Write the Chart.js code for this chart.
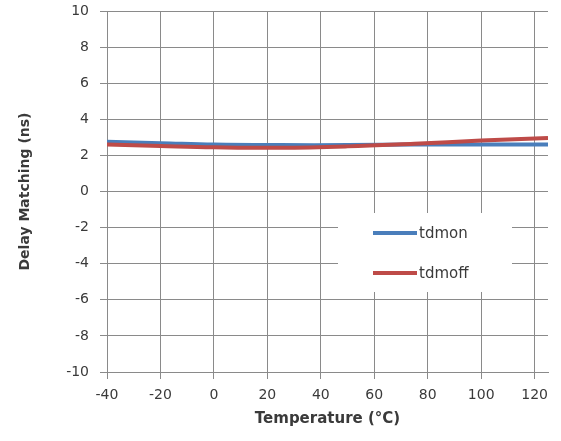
<!DOCTYPE html>
<html>
<head>
<meta charset="utf-8">
<script src="https://cdn.jsdelivr.net/npm/chart.js@4.4.1/dist/chart.umd.min.js"></script>
<style>
  html, body { margin: 0; padding: 0; background: #fff; }
  #wrap { width: 561px; height: 441px; }
</style>
</head>
<body>
<div id="wrap"><canvas id="chart"></canvas></div>
<script>
// temperature sweep and delay matching per edge (ns)
const temps  = [-40, -20, 0, 25, 50, 75, 100, 125];
const tdmon  = [2.75, 2.68, 2.6, 2.57, 2.57, 2.6, 2.6, 2.6];
const tdmoff = [2.6, 2.52, 2.45, 2.42, 2.5, 2.65, 2.82, 2.97];
const seriesNames = ['tdmon', 'tdmoff'];
const xTicks = [-40, -20, 0, 20, 40, 60, 80, 100, 120];

const gridColor = '#8a8a8a';
const textColor = '#3a3a3a';
const fontFamily = '"DejaVu Sans", sans-serif';

const toPoints = ys => temps.map((t, i) => ({ x: t, y: ys[i] }));

// white legend box sitting inside the plot, over the grid
const boxLegend = {
  id: 'boxLegend',
  beforeDatasetsDraw(chart) {
    const { ctx, chartArea: a } = chart;
    const x0 = a.left + 231, y0 = a.top + 202;
    ctx.save();
    ctx.fillStyle = '#ffffff';
    ctx.fillRect(x0, y0, 174, 79);
    chart.data.datasets.forEach((ds, i) => {
      const y = y0 + 20 + i * 40;
      ctx.strokeStyle = ds.borderColor;
      ctx.lineWidth = 4;
      ctx.beginPath();
      ctx.moveTo(x0 + 35, y);
      ctx.lineTo(x0 + 79, y);
      ctx.stroke();
      ctx.fillStyle = textColor;
      ctx.font = '15px ' + fontFamily;
      ctx.textBaseline = 'middle';
      ctx.fillText(ds.label, x0 + 81, y + 1);
    });
    ctx.restore();
  }
};

new Chart(document.getElementById('chart'), {
  type: 'line',
  data: {
    datasets: [
      { label: seriesNames[0], data: toPoints(tdmon), borderColor: '#4a7ebb', borderWidth: 4, tension: 0.4, pointRadius: 0, order: 1 },
      { label: seriesNames[1], data: toPoints(tdmoff), borderColor: '#be4b48', borderWidth: 4, tension: 0.4, pointRadius: 0, order: 0 }
    ]
  },
  options: {
    responsive: true,
    maintainAspectRatio: false,
    animation: false,
    layout: { padding: { top: 11, right: 13, left: 0, bottom: 0 } },
    plugins: { legend: { display: false }, tooltip: { enabled: false } },
    scales: {
      x: {
        type: 'linear',
        min: -40,
        max: 125,
        afterBuildTicks: s => { s.ticks = xTicks.map(v => ({ value: v })); },
        afterFit: s => { s.height = 69; s.paddingLeft = 0; s.paddingRight = 0; },
        grid: { color: gridColor, tickLength: 7, drawTicks: true },
        border: { color: gridColor },
        ticks: { color: textColor, padding: 8, font: { family: fontFamily, size: 14 } },
        title: { display: true, text: 'Temperature (°C)', color: textColor, padding: { top: 0, bottom: 13 }, font: { family: fontFamily, size: 15, weight: 'bold' } }
      },
      y: {
        min: -10,
        max: 10,
        ticks: { stepSize: 2, color: textColor, padding: 11, font: { family: fontFamily, size: 14 } },
        afterFit: s => { s.width = 107; s.paddingTop = 0; s.paddingBottom = 0; },
        grid: { color: gridColor, tickLength: 7, drawTicks: true },
        border: { color: gridColor },
        title: { display: true, text: 'Delay Matching (ns)', color: textColor, padding: { top: 17, bottom: 0 }, font: { family: fontFamily, size: 14, weight: 'bold' } }
      }
    }
  },
  plugins: [boxLegend]
});
</script>
</body>
</html>
